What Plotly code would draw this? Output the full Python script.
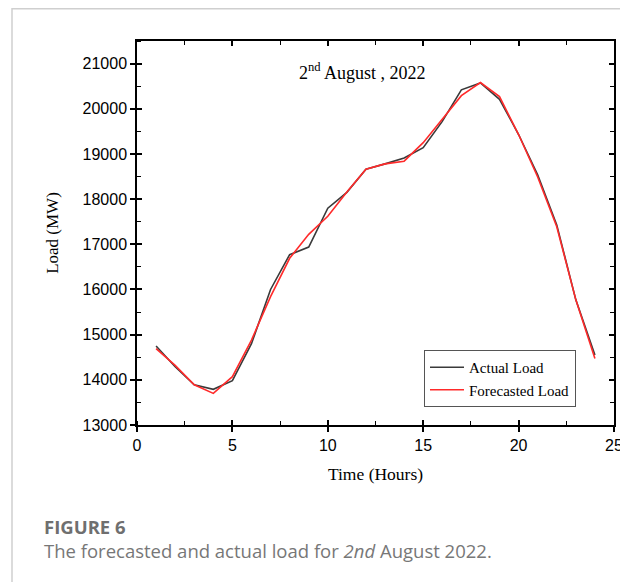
import plotly.graph_objects as go

hours = list(range(1, 25))
actual_load = [14750, 14290, 13890, 13790, 13980, 14800, 16000, 16770, 16940, 17800,
               18150, 18660, 18780, 18910, 19140, 19720, 20420, 20570, 20210, 19430,
               18540, 17430, 15770, 14550]
forecast_load = [14690, 14320, 13890, 13700, 14070, 14880, 15840, 16690, 17220, 17620,
                 18160, 18660, 18780, 18840, 19250, 19770, 20290, 20580, 20270, 19430,
                 18490, 17390, 15770, 14470]

x_range = [0, 25]
y_range = [13000, 21500]
x_ticks = [0, 5, 10, 15, 20, 25]
y_ticks = list(range(13000, 21001, 1000))

SERIF = "Liberation Serif"
SANS = "Liberation Sans"

# The page body adds an 8px offset, so the figure is 8px smaller than the window
W, H = 620, 574
L, R, T, B = 129, 14, 33, 157
PW, PH = W - L - R, H - T - B


def px(xf):
    return (xf - L) / PW


def py(yf):
    return (H - B - yf) / PH


fig = go.Figure()
fig.add_trace(go.Scatter(x=hours, y=actual_load, mode="lines", name="Actual Load",
                         line=dict(color="#3a3a3a", width=1.6)))
fig.add_trace(go.Scatter(x=hours, y=forecast_load, mode="lines", name="Forecasted Load",
                         line=dict(color="#ff2a2a", width=1.6)))

# invisible helper traces so the overlay tick axes are drawn
for xa, ya in [("x2", "y"), ("x3", "y"), ("x", "y2"), ("x", "y3")]:
    fig.add_trace(go.Scatter(x=hours, y=actual_load, mode="lines", xaxis=xa, yaxis=ya,
                             line=dict(color="rgba(0,0,0,0)", width=0), showlegend=False,
                             hoverinfo="skip"))

axis_common = dict(showgrid=False, zeroline=False, linecolor="black", automargin=False)
minor_x = dict(ticks="inside", dtick=2.5, tick0=0, ticklen=4, tickwidth=1.2, tickcolor="black")
minor_y = dict(ticks="inside", dtick=500, tick0=13000, ticklen=4, tickwidth=1.2, tickcolor="black")

fig.update_layout(
    width=W, height=H,
    margin=dict(l=L, r=R, t=T, b=B),
    paper_bgcolor="white", plot_bgcolor="white",
    showlegend=True,
    xaxis=dict(range=x_range, tickvals=x_ticks, ticks="outside", ticklen=5, tickwidth=1.5,
               tickcolor="black", showline=True, linewidth=1.5, minor=minor_x,
               tickfont=dict(family=SANS, size=16, color="black"),
               title=dict(text="Time (Hours)", font=dict(family=SERIF, size=17.5, color="black"), standoff=15),
               **axis_common),
    xaxis2=dict(range=x_range, overlaying="x", matches="x", side="bottom", anchor="y",
                tickvals=x_ticks, ticks="inside", ticklen=5, tickwidth=1.5, tickcolor="black",
                showticklabels=False, showline=False, **axis_common),
    xaxis3=dict(range=x_range, overlaying="x", matches="x", side="top", anchor="y",
                tickvals=x_ticks, ticks="inside", ticklen=5, tickwidth=1.5, tickcolor="black",
                minor=minor_x, showticklabels=False, showline=True, linewidth=1.5, **axis_common),
    yaxis=dict(range=y_range, tickvals=y_ticks, tickformat="d", ticks="outside", ticklen=5, tickwidth=1.5,
               tickcolor="black", showline=True, linewidth=1.5, minor=minor_y,
               tickfont=dict(family=SANS, size=16, color="black"),
               title=dict(text="Load (MW)", font=dict(family=SERIF, size=17, color="black"), standoff=20),
               **axis_common),
    yaxis2=dict(range=y_range, overlaying="y", matches="y", side="left", anchor="x",
                tickvals=y_ticks, ticks="inside", ticklen=5, tickwidth=1.5, tickcolor="black",
                showticklabels=False, showline=False, **axis_common),
    yaxis3=dict(range=y_range, overlaying="y", matches="y", side="right", anchor="x",
                tickvals=y_ticks, ticks="inside", ticklen=5, tickwidth=1.5, tickcolor="black",
                minor=minor_y, showticklabels=False, showline=True, linewidth=1.5, **axis_common),
    legend=dict(x=px(424 - 8), y=py(350 - 8), xanchor="left", yanchor="top",
                bgcolor="white", bordercolor="#555555", borderwidth=1,
                font=dict(family=SERIF, size=15, color="black"),
                tracegroupgap=0, itemwidth=34),
)

fig.add_annotation(x=px(362 - 8), y=py(72 - 8), xref="paper", yref="paper",
                   xanchor="center", yanchor="middle",
                   text="2<sup>nd</sup> August , 2022", showarrow=False,
                   font=dict(family=SERIF, size=18, color="black"))

# caption below the chart
fig.add_annotation(x=px(42 - 8), y=py(526 - 8), xref="paper", yref="paper",
                   xanchor="left", yanchor="middle",
                   text="<b>FIGURE 6</b>", showarrow=False,
                   font=dict(family="Open Sans", size=18.5, color="#6f6f6f"))
fig.add_annotation(x=px(42 - 8), y=py(550 - 8), xref="paper", yref="paper",
                   xanchor="left", yanchor="middle",
                   text="The forecasted and actual load for <i>2nd</i> August 2022.", showarrow=False,
                   font=dict(family="Open Sans", size=18.5, color="#777777"))

# outer light frame
fig.add_shape(type="rect", xref="paper", yref="paper",
              x0=px(12 - 8), x1=px(622 - 8),
              y0=py(H + 40), y1=py(0.7),
              line=dict(color="#cfcfcf", width=1.5), fillcolor="rgba(0,0,0,0)", layer="below")

fig.write_html("out.html")
